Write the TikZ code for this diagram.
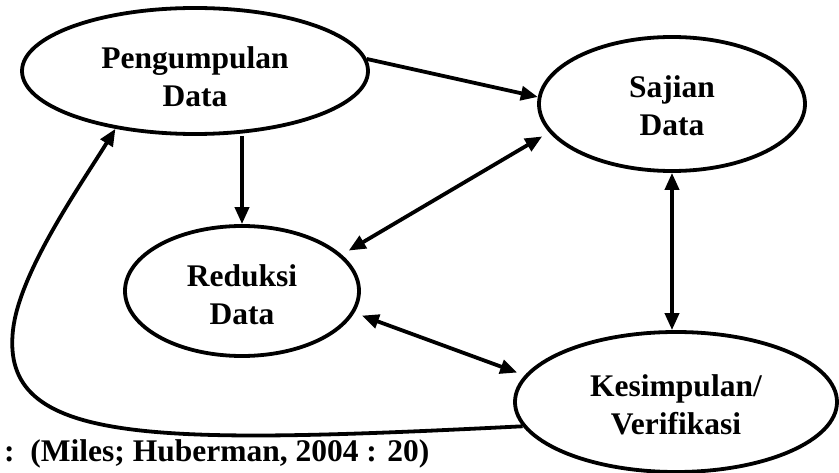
\documentclass[tikz,border=0pt]{standalone}
\usepackage{fontspec}
\setmainfont{Liberation Serif}
\usetikzlibrary{arrows.meta,shapes.geometric}

\begin{document}
\begin{tikzpicture}
        [
            x = 1pt, y = -1pt,
            > = {Triangle[length=17pt,width=14pt]},
            line width = 3.8pt,
            stage/.style = {draw, ellipse, line width=3.8pt, inner sep=0pt},
            every label/.style = {font=\fontsize{31.5}{38}\selectfont\bfseries, align=center},
            gap/.style = {shorten <=8pt, shorten >=8pt},
            source/.style = {font=\fontsize{31.5}{38}\selectfont\bfseries, anchor=base west}
        ]
        \useasboundingbox (0,0) rectangle (839,473);
        \node [stage, minimum width=346pt, minimum height=126pt,
            label={[yshift=-6pt]center:Pengumpulan\\Data}] (Kumpul) at (195,71) {};
        \node [stage, minimum width=266pt, minimum height=134pt,
            label={[yshift=-2pt]center:Sajian\\Data}] (Sajian) at (672,104) {};
        \node [stage, minimum width=234pt, minimum height=130pt,
            label={[yshift=-4pt]center:Reduksi\\Data}] (Reduksi) at (242,291) {};
        \node [stage, minimum width=322pt, minimum height=140pt,
            label={[yshift=-3pt]center:Kesimpulan/\\Verifikasi}] (Simpul) at (676,402) {};
        \node [source] (Sumber) at (-1,461) {:\ \ (Miles; Huberman, 2004 : 20)};
        \coordinate (Kiri) at (13,330);
        \draw [->] (Kumpul.4) -- (Sajian.177);
        \draw [->] (Reduksi.north |- Kumpul.south) -- (Reduksi.north);
        \draw [<->, gap] (Reduksi.20) -- (Sajian.193);
        \draw [<->] (Sajian.south) -- (Sajian.south |- Simpul.north);
        \draw [<->, gap] (Reduksi.-11) -- (Simpul.170);
        \draw [->] (Simpul.189) .. controls (150,445) and (0,445) .. (Kiri)
            .. controls (19.5,272) and (80,186) .. (Kumpul.216);
    \end{tikzpicture}
\end{document}
